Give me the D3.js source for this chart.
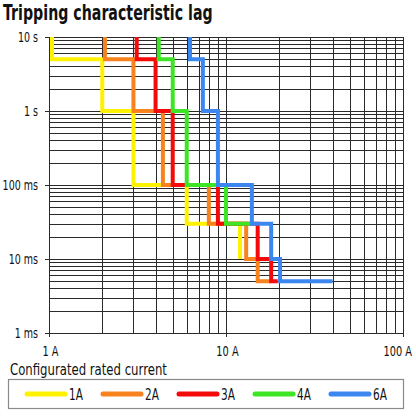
<!DOCTYPE html>
<html>
<head>
<meta charset="utf-8">
<script src="https://cdn.jsdelivr.net/npm/d3@7"></script>
<style>
  html, body { margin: 0; padding: 0; background: #fff; }
  svg { display: block; }
  text { font-family: "DejaVu Sans", sans-serif; fill: #111; }
</style>
</head>
<body>
<svg id="chart" width="416" height="416"></svg>
<script>
// ---- data ----
const title = "Tripping characteristic lag";
const legendTitle = "Configurated rated current";
const seriesNames = ["1A", "2A", "3A", "4A", "6A"];
const seriesColors = ["#fff200", "#f7821e", "#f50a0a", "#3ee524", "#3c86f0"];

// corner points: [current in A, time in ms]
const curve1A = [[1.04,10000],[1.04,5000],[2,5000],[2,1000],[3,1000],[3,100],[6,100],[6,30],[12,30],[12,10]];
const curve2A = [[2.07,10000],[2.07,5000],[3,5000],[3,1000],[4.4,1000],[4.4,100],[8,100],[8,30],[13,30],[13,10],[15.1,10],[15.1,5],[18,5]];
const curve3A = [[3.13,10000],[3.13,5000],[4,5000],[4,1000],[5,1000],[5,100],[9,100],[9,30],[15.1,30],[15.1,10],[18,10],[18,5],[19.6,5]];
const curve4A = [[4.17,10000],[4.17,5000],[5,5000],[5,1000],[6,1000],[6,100],[10,100],[10,30],[14,30]];
const curve6A = [[6.26,10000],[6.26,5000],[7.4,5000],[7.4,1000],[9,1000],[9,100],[14,100],[14,30],[18,30],[18,10],[20.2,10],[20.2,5],[40,5]];
const curves = [curve1A, curve2A, curve3A, curve4A, curve6A];

const xTickValues = [1, 10, 100];
const xTickLabels = ["1 A", "10 A", "100 A"];
const yTickValues = [10000, 1000, 100, 10, 1];
const yTickLabels = ["10 s", "1 s", "100 ms", "10 ms", "1 ms"];

// ---- layout ----
const svg = d3.select("#chart");
const mLeft = 49, mRight = 403, mTop = 37, mBottom = 333;

const x = d3.scaleLog().domain([1, 100]).range([mLeft, mRight]);
const y = d3.scaleLog().domain([1, 10000]).range([mBottom, mTop]);

// title
svg.append("text")
  .attr("transform", "translate(3,20) scale(0.8,1)")
  .attr("font-size", 21).attr("font-weight", "bold")
  .attr("textLength", 262).attr("lengthAdjust", "spacingAndGlyphs")
  .text(title);

// grid
const grid = svg.append("g").attr("stroke", "#2a2a2a").attr("stroke-width", 1).attr("shape-rendering", "crispEdges");
const xMinor = [];
for (let d = 1; d < 100; d *= 10) for (let k = 1; k < 10; k++) xMinor.push(d * k);
xMinor.push(100);
const yMinor = [];
for (let d = 1; d < 10000; d *= 10) for (let k = 1; k < 10; k++) yMinor.push(d * k);
yMinor.push(10000);

grid.selectAll("line.v").data(xMinor).join("line")
  .attr("class", "v")
  .attr("x1", d => Math.round(x(d)) + 0.5).attr("x2", d => Math.round(x(d)) + 0.5)
  .attr("y1", mTop).attr("y2", d => xTickValues.includes(d) ? mBottom + 4 : mBottom);
grid.selectAll("line.h").data(yMinor).join("line")
  .attr("class", "h")
  .attr("y1", d => Math.round(y(d)) + 0.5).attr("y2", d => Math.round(y(d)) + 0.5)
  .attr("x1", d => yTickValues.includes(d) ? mLeft - 4 : mLeft).attr("x2", mRight);

// y tick labels
svg.append("g").selectAll("text").data(yTickValues).join("text")
  .attr("transform", d => `translate(38,${y(d) + 5}) scale(0.68,1)`)
  .attr("text-anchor", "end").attr("font-size", 14)
  .text((d, i) => yTickLabels[i]);

// x tick labels
svg.append("g").selectAll("text").data(xTickValues).join("text")
  .attr("transform", (d, i) => `translate(${i === xTickValues.length - 1 ? 412 : x(d) + 1.5},356) scale(0.7,1)`)
  .attr("text-anchor", (d, i) => i === xTickValues.length - 1 ? "end" : "middle")
  .attr("font-size", 14)
  .text((d, i) => xTickLabels[i]);

// curves
const line = d3.line().x(d => x(d[0])).y(d => y(d[1]));
svg.append("g").selectAll("path").data(curves).join("path")
  .attr("d", line)
  .attr("fill", "none")
  .attr("stroke", (d, i) => seriesColors[i])
  .attr("stroke-width", 4)
  .attr("stroke-linejoin", "miter");

// legend title
svg.append("text")
  .attr("transform", "translate(10,375) scale(0.74,1)")
  .attr("font-size", 16.5)
  .attr("textLength", 212).attr("lengthAdjust", "spacingAndGlyphs")
  .text(legendTitle);

// legend box
svg.append("rect")
  .attr("x", 8.5).attr("y", 379.5).attr("width", 395).attr("height", 29)
  .attr("fill", "none").attr("stroke", "#8a8a8a").attr("stroke-width", 1.2);

const legendX = d3.scalePoint().domain(seriesNames).range([27, 331]);
const lg = svg.append("g").selectAll("g").data(seriesNames).join("g")
  .attr("transform", d => `translate(${legendX(d)},394)`);
lg.append("line")
  .attr("x1", 0).attr("x2", 38).attr("y1", 0).attr("y2", 0)
  .attr("stroke", (d, i) => seriesColors[i])
  .attr("stroke-width", 5).attr("stroke-linecap", "round");
lg.append("text")
  .attr("transform", "translate(42,6) scale(0.7,1)")
  .attr("font-size", 15)
  .text(d => d);
</script>
</body>
</html>
